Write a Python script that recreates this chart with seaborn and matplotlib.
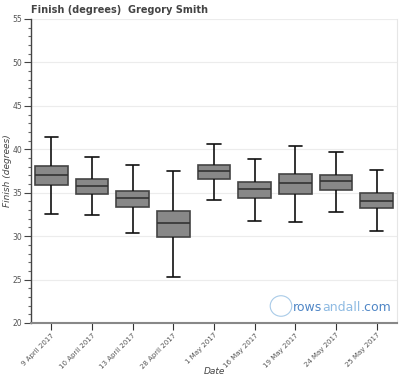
import numpy as np
import pandas as pd
import matplotlib
matplotlib.use('Agg')
import matplotlib.pyplot as plt
from matplotlib.ticker import MultipleLocator
from matplotlib.patches import Circle
import seaborn as sns

# Data: low whisker, Q1, median, Q3, high whisker
dates = ['9 April 2017', '10 April 2017', '13 April 2017', '28 April 2017',
         '1 May 2017', '16 May 2017', '19 May 2017', '24 May 2017', '25 May 2017']
whisker_low = [32.6, 32.4, 30.4, 25.3, 34.2, 31.7, 31.6, 32.75, 30.55]
q1 = [35.9, 34.9, 33.3, 29.9, 36.6, 34.4, 34.9, 35.35, 33.2]
median = [37.0, 35.8, 34.4, 31.5, 37.45, 35.4, 36.1, 36.3, 34.05]
q3 = [38.1, 36.6, 35.25, 32.9, 38.2, 36.2, 37.1, 37.05, 34.95]
whisker_high = [41.4, 39.1, 38.2, 37.5, 40.65, 38.9, 40.4, 39.65, 37.6]

# five values per date reproduce exactly these quartiles
rows = []
for i, d in enumerate(dates):
    for v in (whisker_low[i], q1[i], median[i], q3[i], whisker_high[i]):
        rows.append({'Date': d, 'Finish': v})
df = pd.DataFrame(rows)

sns.set_style('white')
plt.rcParams['font.family'] = ['DejaVu Sans']

fig = plt.figure(figsize=(4, 3.8), dpi=100)
ax = fig.add_axes([0.0775, 0.15, 0.915, 0.8])

sns.boxplot(data=df, x='Date', y='Finish', order=dates, whis=(0, 100),
            width=0.8, color='#888888', saturation=1, ax=ax,
            boxprops=dict(edgecolor='#444444', linewidth=1.2),
            medianprops=dict(color='#333333', linewidth=1.2),
            whiskerprops=dict(color='#111111', linewidth=1.2),
            capprops=dict(color='#111111', linewidth=1.2),
            capwidths=0.32)

ax.set_ylim(20, 55)
ax.set_xlim(-0.5, len(dates) - 0.5)
ax.yaxis.set_major_locator(MultipleLocator(5))
ax.yaxis.set_minor_locator(MultipleLocator(1))
ax.grid(axis='y', which='major', color='#ececec', linewidth=0.8)
ax.set_axisbelow(True)

ax.spines['top'].set_visible(False)
ax.spines['right'].set_color('#e6e6e6')
ax.spines['left'].set_color('#444444')
ax.spines['left'].set_linewidth(1.0)
ax.spines['bottom'].set_color('#888888')
ax.spines['bottom'].set_linewidth(1.5)

ax.tick_params(axis='y', which='major', length=5, width=0.8, color='#444444',
               labelsize=5.5, labelcolor='#555555', pad=1.5, left=True)
ax.tick_params(axis='y', which='minor', length=2.5, width=0.8, color='#666666', left=True)
ax.tick_params(axis='x', which='major', length=5, width=0.8, color='#333333',
               labelsize=5, labelcolor='#555555', pad=1.5, bottom=True)
for lab in ax.get_xticklabels():
    lab.set_rotation(45)
    lab.set_ha('right')
    lab.set_rotation_mode('anchor')

ax.set_xlabel('Date', fontsize=6.5, style='italic', color='#444444')
ax.xaxis.set_label_coords(0.5, -0.145)
ax.set_ylabel('Finish (degrees)', fontsize=6.5, style='italic', color='#444444')
ax.yaxis.set_label_coords(-0.052, 0.5)
ax.set_title('Finish (degrees)  Gregory Smith', fontsize=7, fontweight='bold',
             color='#444444', loc='left', pad=4)

# watermark, pieces chained so they sit side by side
fig.patches.append(Circle((281 / 400, 1 - 306 / 380), 0.027, transform=fig.transFigure,
                          fill=False, edgecolor='#a9cbe8', linewidth=0.8))
t1 = fig.text(293 / 400, 1 - 311 / 380, 'rows', fontsize=9, color='#4f86c6',
              ha='left', va='baseline')
t2 = ax.annotate('andall', xy=(1, 0), xycoords=t1, fontsize=9, color='#8fbbe3',
                 ha='left', va='bottom', annotation_clip=False)
ax.annotate('.com', xy=(1, 0), xycoords=t2, fontsize=9, color='#4f86c6',
            ha='left', va='bottom', annotation_clip=False)

fig.savefig('out.png', dpi=100)
